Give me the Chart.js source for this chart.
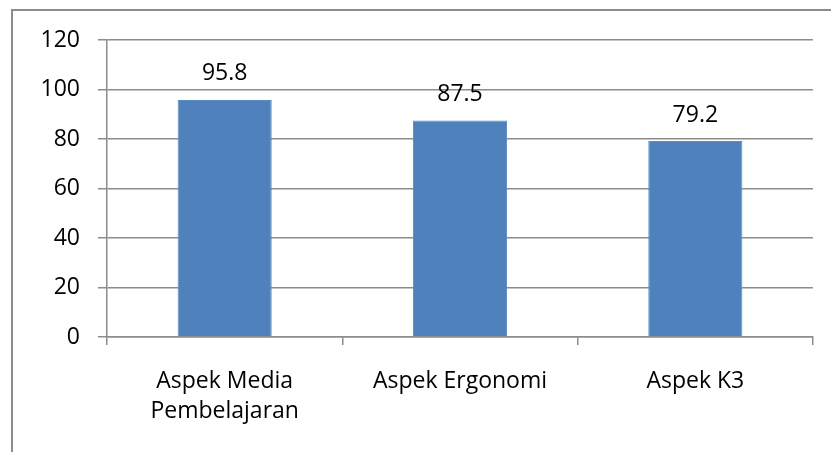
<!DOCTYPE html>
<html>
<head>
<meta charset="utf-8">
<script src="https://cdn.jsdelivr.net/npm/chart.js@4.4.1/dist/chart.umd.min.js"></script>
<style>
  html, body { margin: 0; padding: 0; background: #fff; }
  #wrap { position: relative; width: 831px; height: 452px; }
  #frame { position: absolute; left: 11px; top: 9px; width: 840px; height: 460px;
           border-left: 2px solid #8c8c8c; border-top: 2px solid #8c8c8c; }
  canvas { position: absolute; left: 0; top: 0; }
</style>
</head>
<body>
<div id="wrap">
  <div id="frame"></div>
  <canvas id="myChart" width="831" height="452"></canvas>
</div>
<script>
const categories = [["Aspek Media", "Pembelajaran"], "Aspek Ergonomi", "Aspek K3"];
const scores = [95.8, 87.5, 79.2];
const yTicks = [0, 20, 40, 60, 80, 100, 120];

const FONT = "'Open Sans', 'Liberation Sans', sans-serif";

// value labels above each bar
const barLabels = {
  id: "barLabels",
  afterDatasetsDraw(chart) {
    const ctx = chart.ctx;
    const meta = chart.getDatasetMeta(0);
    ctx.save();
    ctx.font = "23px " + FONT;
    ctx.fillStyle = "#000";
    ctx.textAlign = "center";
    ctx.textBaseline = "middle";
    meta.data.forEach((bar, i) => {
      ctx.fillText(scores[i].toFixed(1), bar.x, bar.y - 26);
    });
    ctx.restore();
  }
};

const myChart = new Chart("myChart", {
  type: "bar",
  data: {
    labels: categories,
    datasets: [{
      data: scores,
      backgroundColor: "#4f81bd",
      borderColor: "#5a8ac4",
      borderWidth: 1,
      barPercentage: 0.4,
      categoryPercentage: 1.0
    }]
  },
  options: {
    responsive: false,
    animation: false,
    layout: { padding: { left: 0, right: 18, top: 40, bottom: 0 } },
    plugins: { legend: { display: false }, tooltip: { enabled: false } },
    scales: {
      x: {
        grid: { display: true, drawOnChartArea: false, drawTicks: true, tickLength: 8, color: "#8c8c8c", lineWidth: 1.5, offset: true },
        border: { color: "#8c8c8c", width: 1.5 },
        ticks: { color: "#000", font: { size: 23, family: FONT, lineHeight: 1.3 }, padding: 22, maxRotation: 0, autoSkip: false },
        afterFit(scale) { scale.height = 452 - 337; }
      },
      y: {
        min: 0,
        max: 120,
        afterBuildTicks(scale) { scale.ticks = yTicks.map(v => ({ value: v })); },
        grid: { color: "#8c8c8c", lineWidth: 1.5, tickLength: 9 },
        border: { color: "#8c8c8c", width: 1.5 },
        ticks: { color: "#000", font: { size: 23, family: FONT }, padding: 18 },
        afterFit(scale) { scale.width = 107; }
      }
    }
  },
  plugins: [barLabels]
});
</script>
</body>
</html>
